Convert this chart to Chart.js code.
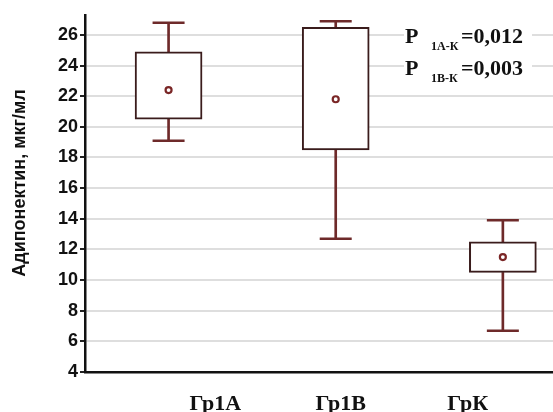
<!DOCTYPE html>
<html>
<head>
<meta charset="utf-8">
<script src="https://cdn.jsdelivr.net/npm/chart.js@4/dist/chart.umd.min.js"></script>
<style>
  html, body { margin: 0; padding: 0; background: #ffffff; }
  #wrap { width: 553px; height: 412px; position: relative; }
</style>
</head>
<body>
<div id="wrap"><canvas id="c" width="553" height="412"></canvas></div>
<script>
// ---- data ----
const categories = ['Гр1А', 'Гр1В', 'ГрК'];
const minVals  = [19.1, 12.7, 6.7];
const q1Vals   = [20.5, 18.5, 10.5];
const meanVals = [22.4, 21.8, 11.5];
const q3Vals   = [24.9, 26.5, 12.5];
const maxVals  = [26.8, 26.9, 13.9];
const yMin = 4;
const yMax = 27.3;
const yStep = 2;
const yTitle = 'Адипонектин, мкг/мл';
const pSubs = ['1А-К', '1В-К'];
const pVals = ['0,012', '0,003'];

// ---- styling ----
const whiskerColor = '#6e2a2a';
const boxColor = '#3a1c1c';
const meanColor = '#7a2626';

const xPos = categories.map((c, i) => i + 0.5);

const lowerStem = xPos.map((x, i) => ({ x: x, y: [minVals[i], q1Vals[i]] }));
const upperStem = xPos.map((x, i) => ({ x: x, y: [q3Vals[i], maxVals[i]] }));
const boxes = xPos.map((x, i) => ({ x: x, y: [q1Vals[i], q3Vals[i]] }));
const caps = [];
xPos.forEach((x, i) => { caps.push({ x: x, y: minVals[i] }); caps.push({ x: x, y: maxVals[i] }); });
const means = xPos.map((x, i) => ({ x: x, y: meanVals[i] }));

const labelOffsets = [0.28, 0.03, -0.21];

const textPlugin = {
  id: 'texts',
  afterDraw(chart) {
    const ctx = chart.ctx;
    const xs = chart.scales.x;
    ctx.save();
    // x category labels
    ctx.fillStyle = '#111';
    ctx.font = 'bold 22px "Liberation Serif", "Times New Roman", serif';
    ctx.textAlign = 'center';
    ctx.textBaseline = 'alphabetic';
    categories.forEach((c, i) => {
      ctx.fillText(c, xs.getPixelForValue(xPos[i] + labelOffsets[i]), 410);
    });
    // y title
    ctx.save();
    ctx.translate(20, 183);
    ctx.rotate(-Math.PI / 2);
    ctx.font = 'bold 18px "Liberation Sans", Arial, sans-serif';
    ctx.textBaseline = 'middle';
    ctx.textAlign = 'center';
    ctx.fillText(yTitle, 0, 0);
    ctx.restore();
    // p-value annotation
    ctx.fillStyle = '#ffffff';
    ctx.fillRect(404, 26, 128, 58);
    ctx.fillStyle = '#111';
    ctx.textAlign = 'left';
    pSubs.forEach((s, i) => {
      const base = 43 + i * 32;
      ctx.font = 'bold 22px "Liberation Serif", "Times New Roman", serif';
      ctx.fillText('P', 405, base);
      ctx.font = 'bold 12px "Liberation Serif", "Times New Roman", serif';
      ctx.fillText(s, 431, base + 7);
      ctx.font = 'bold 22px "Liberation Serif", "Times New Roman", serif';
      ctx.fillText('=' + pVals[i], 461, base);
    });
    ctx.restore();
  }
};

new Chart(document.getElementById('c'), {
  type: 'bar',
  data: {
    datasets: [
      { type: 'bar', data: lowerStem, backgroundColor: whiskerColor, borderWidth: 0, barThickness: 2, grouped: false, order: 3 },
      { type: 'bar', data: upperStem, backgroundColor: whiskerColor, borderWidth: 0, barThickness: 2, grouped: false, order: 3 },
      { type: 'bar', data: boxes, backgroundColor: '#ffffff', borderColor: boxColor, borderWidth: 2, borderSkipped: false, barThickness: 67, grouped: false, order: 2 },
      { type: 'scatter', data: caps, pointStyle: 'line', pointRadius: 16, pointHoverRadius: 16, borderColor: whiskerColor, borderWidth: 2.5, order: 1 },
      { type: 'scatter', data: means, pointStyle: 'circle', pointRadius: 3, pointHoverRadius: 3, backgroundColor: '#ffffff', borderColor: meanColor, borderWidth: 2.2, order: 0 }
    ]
  },
  options: {
    responsive: false,
    animation: false,
    events: [],
    layout: { autoPadding: false, padding: { top: 15, right: 0, left: 0, bottom: 0 } },
    plugins: { legend: { display: false }, tooltip: { enabled: false } },
    scales: {
      x: {
        type: 'linear',
        min: 0,
        max: 2.8,
        offset: false,
        grid: { display: false },
        border: { display: true, color: '#111', width: 2.5 },
        ticks: { display: false },
        afterFit(scale) { scale.height = 40; scale.paddingLeft = 0; scale.paddingRight = 0; }
      },
      y: {
        type: 'linear',
        min: yMin,
        max: yMax,
        grid: { color: '#dedede', lineWidth: 2, tickColor: '#222', tickLength: 5, tickWidth: 2 },
        border: { display: true, color: '#111', width: 2.5 },
        ticks: {
          stepSize: yStep,
          includeBounds: false,
          color: '#111',
          padding: 2,
          font: { family: '"Liberation Sans", Arial, sans-serif', weight: 'bold', size: 18 }
        },
        afterFit(scale) { scale.width = 85; scale.paddingTop = 0; scale.paddingBottom = 0; }
      }
    }
  },
  plugins: [textPlugin]
});
</script>
</body>
</html>
